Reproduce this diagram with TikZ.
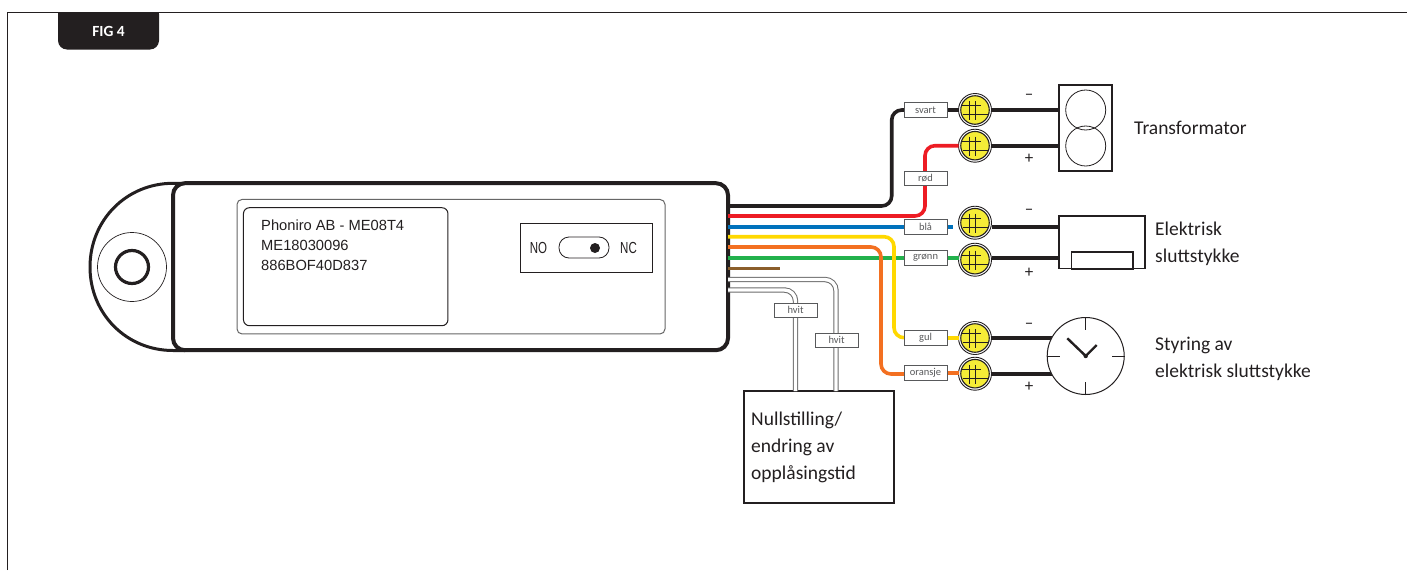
\documentclass[tikz,border=0pt]{standalone}
\usepackage{fontspec}
\setmainfont{Carlito}
\newfontfamily\arialf{Liberation Sans}
\newfontfamily\narrowf[FakeStretch=0.72]{Liberation Sans}
\definecolor{ink}{HTML}{231F20}
\definecolor{tgray}{HTML}{58595B}
\definecolor{wred}{HTML}{ED1C24}
\definecolor{wblue}{HTML}{0072BC}
\definecolor{wyellow}{HTML}{FFD800}
\definecolor{worange}{HTML}{F37021}
\definecolor{wgreen}{HTML}{22B14C}
\definecolor{wbrown}{HTML}{8B5E2B}
\definecolor{screw}{HTML}{F5EC37}
\tikzset{
  boxn/.style={draw=ink,fill=white,rectangle,inner sep=0pt,outer sep=0pt},
  tagn/.style={draw=tgray,fill=white,rectangle,inner sep=0pt,outer sep=0pt,line width=.9pt,
    minimum width=43pt,minimum height=14.5pt,text=tgray,font=\fontsize{10.5}{12}\selectfont},
  wire/.style={line width=3.6pt,rounded corners=10pt},
  powerw/.style={line width=4pt,draw=ink},
  signw/.style={draw=gray!85!black,line width=1pt,double=white,double distance=3.4pt,rounded corners=11pt},
  lbl/.style={anchor=base west,inner sep=0pt,text=ink,font=\fontsize{19.5}{24}\selectfont},
  sgn/.style={inner sep=0pt,text=ink,font=\fontsize{17}{20}\selectfont},
  termo/.style={circle,draw=ink,fill=white,line width=.9pt,minimum size=33pt,inner sep=0pt,outer sep=0pt},
  termi/.style={circle,draw=ink,fill=screw,line width=1.1pt,minimum size=28.5pt,inner sep=0pt,outer sep=0pt},
  cross/.style={draw=ink,line width=.8pt},
}
\newcommand{\terminal}[3]{%
  \node[termo] (#1) at (#2,#3) {};
  \node[termi] (#1i) at (#2,#3) {};
  \draw[cross] (#2-14,#3-4.5) -- (#2+6,#3-4.5);
  \draw[cross] (#2-12,#3+4.5) -- (#2+14,#3+4.5);
  \draw[cross] (#2-6,#3-9) -- (#2-6,#3+10);
  \draw[cross] (#2,#3-9) -- (#2,#3+10);
}
\begin{document}
\begin{tikzpicture}[x=1pt,y=-1pt]
\useasboundingbox (0,0) rectangle (1407,570);
% frame
\draw[draw=ink,line width=1pt] (7.5,570) -- (7.5,12.5) -- (1407,12.5);
% tab
\fill[ink,rounded corners=9pt] (58,5) -- (58,49.5) -- (159,49.5) -- (159,5) -- cycle;
\fill[white] (50,0) rectangle (170,12);
\draw[draw=ink,line width=1pt] (50,12.5) -- (170,12.5);
\node[text=white,font=\fontsize{15.5}{18}\bfseries\selectfont,inner sep=0pt] (figtag) at (108.5,31.5) {FIG 4};
% ear
\draw[ink,line width=3pt] (185,183.3) -- (173,183.3) .. controls (126.6,183.3) and (90,220) .. (90,267) .. controls (90,314) and (126.6,350.5) .. (173,350.5) -- (185,350.5);
\node[circle,draw=ink,line width=.7pt,minimum size=69pt,inner sep=0pt] (earo) at (132,267) {};
\node[circle,draw=ink,line width=3.2pt,minimum size=33pt,inner sep=0pt] (eari) at (132,267) {};
% wires from the body
\coordinate (sBlack) at (728,206);
\coordinate (sRed) at (728,216);
\coordinate (sBlue) at (728,226.7);
\coordinate (sYellow) at (728,236.7);
\coordinate (sOrange) at (728,247);
\coordinate (sGreen) at (728,257.7);
\coordinate (sBrown) at (728,268.3);
\coordinate (eBrown) at (780,268.3);
\coordinate (sW1) at (728,279.5);
\coordinate (sW2) at (728,290);
\coordinate (bBlack) at (891.7,206);
\coordinate (cBlack) at (891.7,110);
\coordinate (bRed) at (925,216);
\coordinate (cRed) at (925,145.7);
\coordinate (bYellow) at (894,236.7);
\coordinate (cYellow) at (894,337.7);
\coordinate (bOrange) at (881,247);
\coordinate (cOrange) at (881,374);
\coordinate (bW1) at (836,279.5);
\coordinate (bW2) at (795.5,290);
% terminals
\terminal{tSvart}{975}{110}
\terminal{tRod}{975}{145.7}
\terminal{tBla}{975}{222.7}
\terminal{tGronn}{975}{259.7}
\terminal{tGul}{975}{338}
\terminal{tOransje}{975}{373.7}
% device boxes
\node[boxn,line width=1.6pt,minimum width=52.7pt,minimum height=85.7pt] (trafo) at (1085.4,127.9) {};
\node[circle,draw=ink,line width=.8pt,minimum size=40pt,inner sep=0pt] (trafoA) at (1085.7,110) {};
\node[circle,draw=ink,line width=.8pt,minimum size=40pt,inner sep=0pt] (trafoB) at (1085.7,146) {};
\node[boxn,line width=1.6pt,minimum width=86pt,minimum height=52.7pt] (lock) at (1102,242.3) {};
\node[boxn,line width=1.6pt,minimum width=61.3pt,minimum height=17pt] (lockin) at (1102.3,260.2) {};
\node[boxn,line width=2pt,minimum width=150.3pt,minimum height=112pt] (reset) at (818.8,447) {};
% body
\node[boxn,line width=4pt,rounded corners=12pt,minimum width=555pt,minimum height=167pt] (body) at (450.5,266.7) {};
\node[boxn,draw=gray!80!black,line width=1pt,rounded corners=5pt,minimum width=428pt,minimum height=134.5pt] (plate) at (451,266.7) {};
\node[boxn,line width=1pt,rounded corners=6pt,minimum width=204.5pt,minimum height=118pt] (label) at (345.7,266.7) {};
\node[anchor=base west,inner sep=0pt,text=ink,font=\arialf\fontsize{14.7}{18}\selectfont] (l1) at (261,230) {Phoniro AB - ME08T4};
\node[anchor=base west,inner sep=0pt,text=ink,font=\arialf\fontsize{14.7}{18}\selectfont] (l2) at (261,250.3) {ME18030096};
\node[anchor=base west,inner sep=0pt,text=ink,font=\arialf\fontsize{14.7}{18}\selectfont] (l3) at (261,270.7) {886BOF40D837};
\node[boxn,line width=1pt,minimum width=132pt,minimum height=49pt] (swbox) at (586,247.5) {};
\node[draw=ink,line width=.8pt,fill=white,rounded corners=10pt,minimum width=50pt,minimum height=21pt,inner sep=0pt] (slider) at (584,247.5) {};
\node[circle,fill=ink,minimum size=10pt,inner sep=0pt] (dot) at (595,248) {};
\node[inner sep=0pt,text=ink,font=\narrowf\fontsize{16}{18}\selectfont] (no) at (538.5,248) {NO};
\node[inner sep=0pt,text=ink,font=\narrowf\fontsize{16}{18}\selectfont] (nc) at (628.5,248) {NC};
% tags
\node[tagn] (gSvart) at (925.5,110) {svart};
\node[tagn] (gRod) at (925.5,178.5) {rød};
\node[tagn] (gBla) at (925.5,226.7) {blå};
\node[tagn] (gGronn) at (925.5,257.7) {grønn};
\node[tagn] (gGul) at (925.5,337.7) {gul};
\node[tagn] (gOransje) at (925.5,373) {oransje};
\node[tagn] (gH1) at (795.5,310.2) {hvit};
\node[tagn] (gH2) at (836.5,340.2) {hvit};
% coloured wires (behind tags)
\begin{scope}[on background layer/.style={}]
\end{scope}
\draw[wire,draw=wgreen] (sGreen) -- (gGronn.west);
\draw[wire,draw=wgreen] (gGronn.east) -- (gGronn.east -| tGronn.west);
\draw[wire,draw=wblue] (sBlue) -- (gBla.west);
\draw[wire,draw=wblue] (gBla.east) -- ++(6,0);
\draw[wire,draw=ink] (sBlack) -- (bBlack) -- (cBlack) -- (gSvart.west);
\draw[wire,draw=ink] (gSvart.east) -- (gSvart.east -| tSvart.west);
\draw[wire,draw=wred] (sRed) -- (bRed) -- (gRod.north -| bRed);
\draw[wire,draw=wred] (sRed -| bRed) ++(0,-20) -- (gRod.south -| bRed);
\draw[wire,draw=wred] (gRod.north -| bRed) -- (cRed) -- (tRod.west);
\draw[wire,draw=wyellow] (sYellow) -- (bYellow) -- (cYellow) -- (gGul.west);
\draw[wire,draw=wyellow] (gGul.east) -- (gGul.east -| tGul.west);
\draw[wire,draw=worange] (sOrange) -- (bOrange) -- (cOrange) -- (gOransje.west |- cOrange);
\draw[wire,draw=worange] (gOransje.east) -- (gOransje.east -| tOransje.west);
\draw[line width=3pt,draw=wbrown] (sBrown) -- (eBrown);
\draw[signw] (sW1) -- (bW1) -- (bW1 |- reset.north);
\draw[signw] (sW2) -- (bW2) -- (bW2 |- reset.north);
% redraw of items sitting on wires
\node[tagn] at (gRod) {rød};
\node[tagn] at (gBla) {blå};
\node[tagn] at (gGronn) {grønn};
\node[tagn] at (gH1) {hvit};
\node[tagn] at (gH2) {hvit};
\node[tagn] at (gGul) {gul};
\node[tagn] at (gOransje) {oransje};
\node[tagn] at (gSvart) {svart};
% power wires
\draw[powerw] (tSvart.east) -- (trafo.west |- tSvart.east);
\draw[powerw] (tRod.east) -- (trafo.west |- tRod.east);
\draw[powerw] (tBla.east |- sBlue) -- (lock.west |- sBlue);
\draw[powerw] (tGronn.east |- sGreen) -- (lock.west |- sGreen);
\draw[powerw] (tGul.east) -- (1055,338);
\draw[powerw] (tOransje.east) -- (1055,373.7);
% clock
\node[circle,draw=ink,fill=white,line width=1pt,minimum size=77pt,inner sep=0pt] (clock) at (1085.7,356) {};
\draw[ink,line width=.9pt] (clock.north) -- ++(0,13);
\draw[ink,line width=.9pt] (clock.south) -- ++(0,-13);
\draw[ink,line width=.9pt] (clock.west) -- ++(13,0);
\draw[ink,line width=.9pt] (clock.east) -- ++(-13,0);
\draw[ink,line width=2.4pt] (1067.3,338.3) -- (clock.center) -- (1096.7,345);
\fill[ink] (clock.center) circle[radius=2.2pt];
% signs
\node[sgn] (m1) at (1029,96.5) {–};
\node[sgn] (p1) at (1029,158.7) {+};
\node[sgn] (m2) at (1029,211.5) {–};
\node[sgn] (p2) at (1029,272.7) {+};
\node[sgn] (m3) at (1029,325.5) {–};
\node[sgn] (p3) at (1029,386.7) {+};
% labels
\node[lbl] (t1) at (1134,134) {Transformator};
\node[lbl] (t2) at (1155,235) {Elektrisk};
\node[lbl] (t3) at (1155,262) {sluttstykke};
\node[lbl] (t4) at (1155,350) {Styring av};
\node[lbl] (t5) at (1155,377.5) {elektrisk sluttstykke};
\node[lbl] (r1) at (751,425) {Nullstilling/};
\node[lbl] (r2) at (751,452) {endring av};
\node[lbl] (r3) at (751,479) {opplåsingstid};
\end{tikzpicture}
\end{document}
